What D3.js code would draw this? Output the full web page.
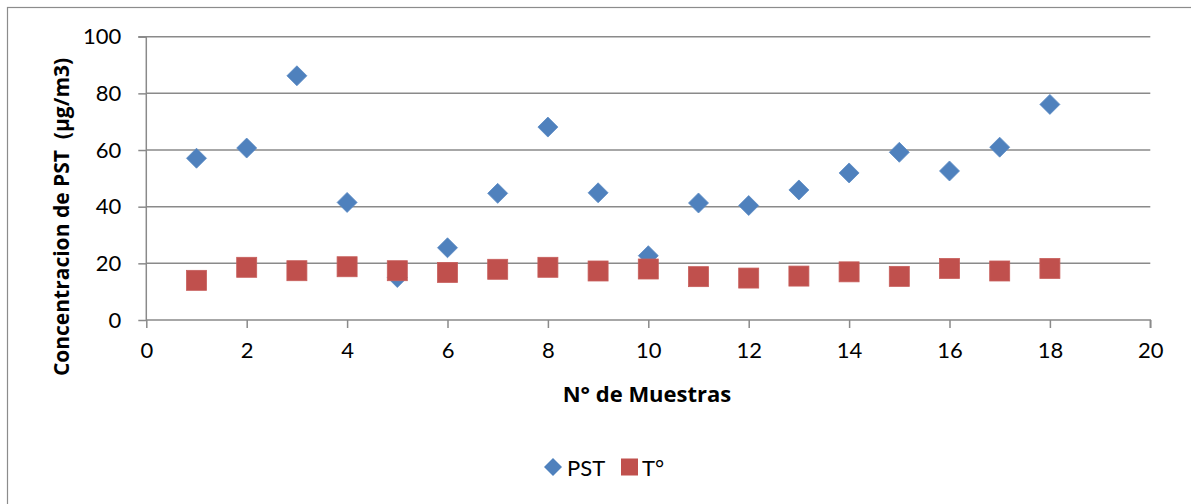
<!DOCTYPE html>
<html>
<head>
<meta charset="utf-8">
<script src="https://cdn.jsdelivr.net/npm/d3@7/dist/d3.min.js"></script>
<style>
  html, body { margin: 0; padding: 0; background: #fff; }
  svg { display: block; font-family: Lato, "Open Sans", sans-serif; }
  .title { font-family: "Open Sans", Lato, sans-serif; font-weight: bold; white-space: pre; }
</style>
</head>
<body>
<svg id="chart" width="1191" height="504"></svg>
<script>
// Sample numbers (x) and measured values per series
const muestras = [1, 2, 3, 4, 5, 6, 7, 8, 9, 10, 11, 12, 13, 14, 15, 16, 17, 18];
const pst = [57.1, 60.7, 86.2, 41.5, 15.0, 25.5, 44.7, 68.1, 44.9, 22.7, 41.3, 40.4, 45.9, 51.9, 59.2, 52.6, 61.0, 76.1];
const temp = [14.0, 18.6, 17.4, 18.8, 17.4, 16.8, 17.9, 18.6, 17.3, 18.0, 15.3, 14.8, 15.5, 17.0, 15.4, 18.2, 17.3, 18.2];
const xTicks = [0, 2, 4, 6, 8, 10, 12, 14, 16, 18, 20];
const yTicks = [0, 20, 40, 60, 80, 100];

const svg = d3.select("#chart");
const blue = "#4F81BD", red = "#C0504D", grid = "#8a8a8a";

// Outer chart frame
svg.append("rect")
  .attr("x", 7.5).attr("y", 7.5)
  .attr("width", 1200).attr("height", 520)
  .attr("fill", "none").attr("stroke", "#8c8c8c").attr("stroke-width", 1.2);

const x = d3.scaleLinear().domain([0, 20]).range([146.3, 1150.3]);
const y = d3.scaleLinear().domain([0, 100]).range([320, 36.7]);

// Horizontal gridlines
svg.append("g").selectAll("line").data(yTicks.filter(d => d > 0)).join("line")
  .attr("x1", x(0)).attr("x2", x(20))
  .attr("y1", d => y(d)).attr("y2", d => y(d))
  .attr("stroke", grid).attr("stroke-width", 1.5);

// Y axis
const yAxis = svg.append("g")
  .attr("transform", `translate(${x(0)},0)`)
  .call(d3.axisLeft(y).tickValues(yTicks).tickSize(8).tickPadding(17));
// X axis
const xAxis = svg.append("g")
  .attr("transform", `translate(0,${y(0)})`)
  .call(d3.axisBottom(x).tickValues(xTicks).tickSize(8).tickPadding(14));

[yAxis, xAxis].forEach(g => {
  g.select(".domain").attr("stroke", grid).attr("stroke-width", 1.5);
  g.selectAll(".tick line").attr("stroke", grid).attr("stroke-width", 1.5);
  g.selectAll(".tick text").attr("fill", "#000").style("font-size", "22px")
    .style("font-family", "Lato, 'Open Sans', sans-serif");
});
yAxis.select(".domain").attr("d", `M-8,${y(100)}H0V${y(0)}`);
xAxis.select(".domain").attr("d", `M${x(0)},0H${x(20)}V8`);

// Axis titles
svg.append("text").attr("class", "title")
  .attr("transform", "translate(61,217) rotate(-90)")
  .attr("text-anchor", "middle").attr("dominant-baseline", "central")
  .style("font-size", "21px")
  .text("Concentracion de PST  (µg/m3)");
svg.append("text").attr("class", "title")
  .attr("x", 647).attr("y", 393)
  .attr("text-anchor", "middle").attr("dominant-baseline", "central")
  .style("font-size", "22px")
  .text("N° de Muestras");

// PST series: diamonds
const dHalf = 10;
svg.append("g").selectAll("path").data(muestras).join("path")
  .attr("d", (d, i) => {
    const cx = x(d), cy = y(pst[i]);
    return `M${cx},${cy - dHalf}L${cx + dHalf},${cy}L${cx},${cy + dHalf}L${cx - dHalf},${cy}Z`;
  })
  .attr("fill", blue).attr("stroke", "#5a8ac4").attr("stroke-width", 0.8);

// T° series: squares
const sHalf = 10;
svg.append("g").selectAll("rect").data(muestras).join("rect")
  .attr("x", d => x(d) - sHalf)
  .attr("y", (d, i) => y(temp[i]) - sHalf)
  .attr("width", sHalf * 2).attr("height", sHalf * 2)
  .attr("fill", red).attr("stroke", "#c75e5b").attr("stroke-width", 0.8);

// Legend
const lg = svg.append("g");
lg.append("path")
  .attr("d", "M553,458L562,467L553,476L544,467Z")
  .attr("fill", blue);
lg.append("text").attr("x", 567).attr("y", 467).attr("dominant-baseline", "central")
  .style("font-size", "22px").text("PST");
lg.append("rect").attr("x", 621).attr("y", 458.5).attr("width", 17).attr("height", 17)
  .attr("fill", red);
lg.append("text").attr("x", 642).attr("y", 467).attr("dominant-baseline", "central")
  .style("font-size", "22px").text("T°");
</script>
</body>
</html>
